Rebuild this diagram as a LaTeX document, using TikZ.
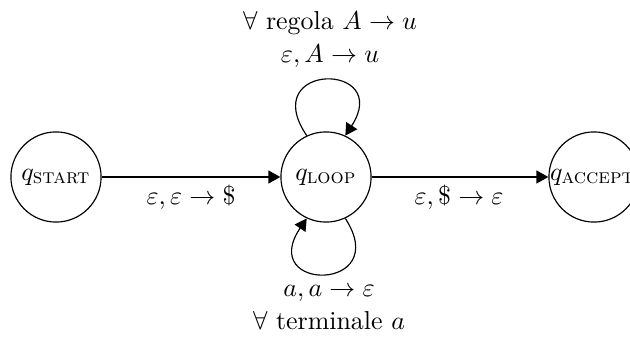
\documentclass[tikz,border=0pt]{standalone}
\usepackage{amsmath}
\usetikzlibrary{arrows.meta}
\newcommand{\stsub}[1]{\mbox{\footnotesize\textsc{#1}}}
\begin{document}
\begin{tikzpicture}[x=0.386pt,y=-0.386pt,
  state/.style={circle,draw,line width=0.45pt,minimum size=34.8pt,inner sep=0pt},
  arr/.style={-{Triangle[length=4.6pt,width=5pt]},line width=0.45pt},
  lbl/.style={inner sep=0pt}]
\useasboundingbox (0,0) rectangle (630,338);
\node[state] (start) at (56,177) {$q_{\stsub{start}}$};
\node[state] (loop) at (326,177) {$q_{\stsub{loop}}$};
\node[state] (acc) at (594,177) {};
\node[lbl,anchor=west] (acctext) at ([xshift=0.5pt]acc.west) {$q_{\stsub{accept}}$};
\draw[arr] (start.east) -- (loop.west);
\draw[arr] (loop.east) -- (acc.west);
\draw[arr] (loop.115) .. controls +(-50,-74) and +(48,-74) .. (loop.65);
\draw[arr] (loop.-65) .. controls +(48,74) and +(-50,74) .. (loop.-115);
\node[lbl] (l1) at (191,197) {$\varepsilon,\varepsilon\rightarrow\$$};
\node[lbl] (l2) at (459,197) {$\varepsilon,\$\rightarrow\varepsilon$};
\node[lbl] (l3) at (330,56) {$\varepsilon,A\rightarrow u$};
\node[lbl] (l4) at (330,23) {$\forall$ regola $A\rightarrow u$};
\node[lbl] (l5) at (329,293) {$a,a\rightarrow\varepsilon$};
\node[lbl] (l6) at (329,321) {$\forall$ terminale $a$};
\end{tikzpicture}
\end{document}
